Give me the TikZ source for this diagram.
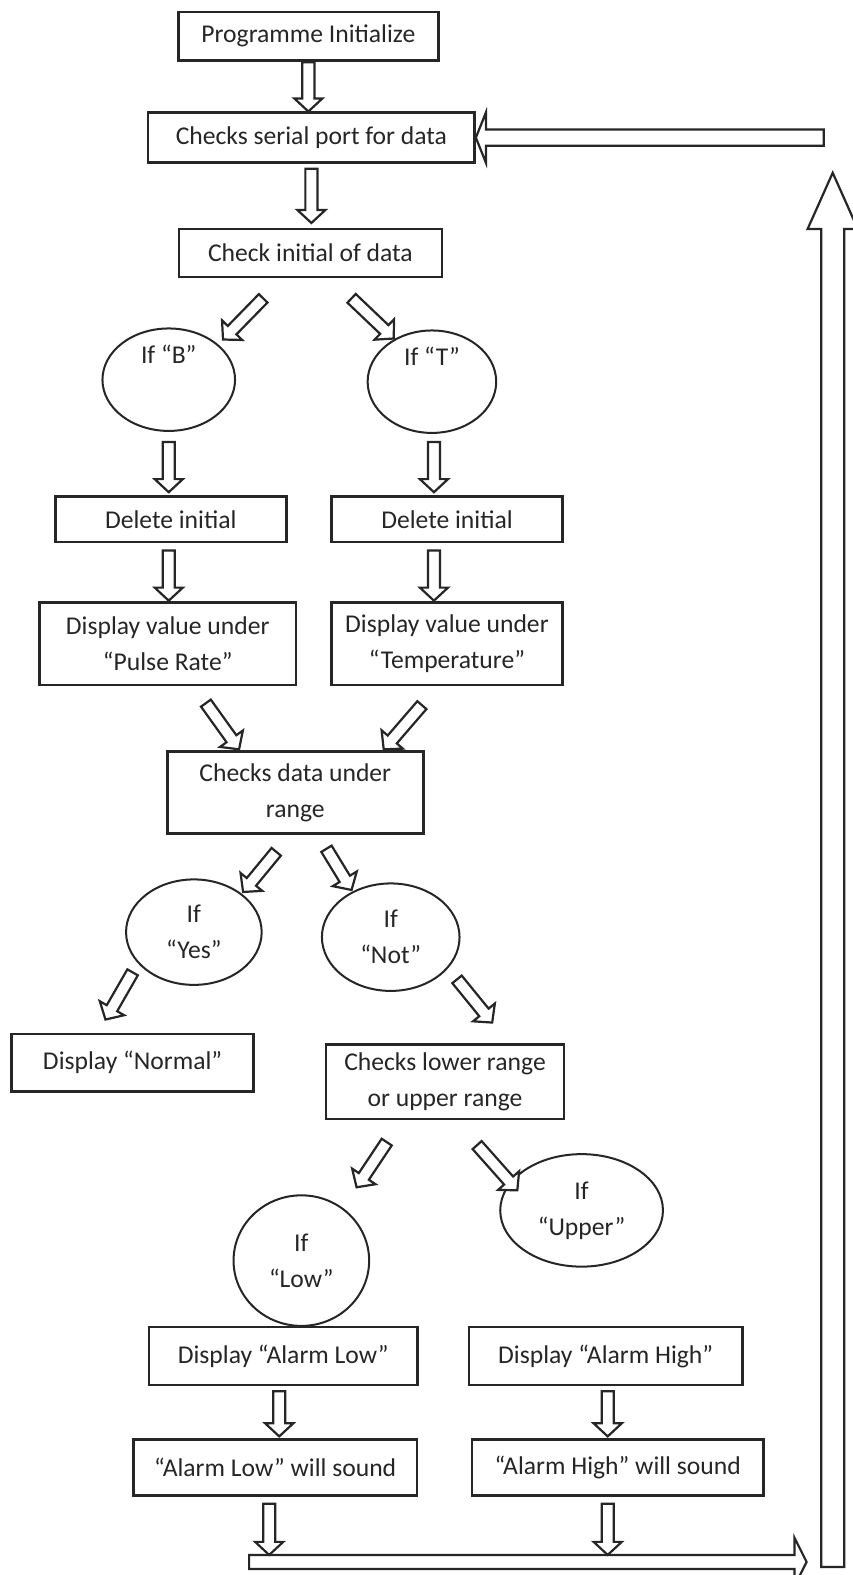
\documentclass[tikz,border=0pt]{standalone}
\usepackage{fontspec}
\setmainfont{Carlito}
\usetikzlibrary{calc,shapes.geometric}
\tikzset{
  box/.style={draw=black!85, line width=2.5pt, fill=white, align=center, inner sep=0pt,
    font=\fontsize{25.5}{36}\selectfont, text=black!85},
  oval/.style={ellipse, draw=black!85, line width=2pt, fill=white, align=center, inner sep=0pt,
    font=\fontsize{25.5}{36}\selectfont, text=black!85},
  hollow/.style={draw=black!85, line width=2.2pt, fill=white, line join=miter},
}
% #1 from, #2 to, #3 half shaft width, #4 half head width, #5 head length
\newcommand\hollowarrow[5]{%
  \coordinate (hA) at ($(#2)!#5!(#1)$);
  \draw[hollow] ($(#1)!#3!90:(#2)$) -- ($(hA)!#3!-90:(#1)$) -- ($(hA)!#4!-90:(#1)$) -- (#2)
    -- ($(hA)!#4!90:(#1)$) -- ($(hA)!#3!90:(#1)$) -- ($(#1)!#3!-90:(#2)$) -- cycle;}
\newcommand\smallarrow[2]{\hollowarrow{#1}{#2}{6pt}{14pt}{13pt}}
\begin{document}
\begin{tikzpicture}[x=1pt,y=-1pt]
\useasboundingbox (0,0) rectangle (849,1568);
% boxes
\node[box, minimum width=259pt, minimum height=48pt] (init) at (307,36) {Programme Initialize};
\node[box, minimum width=325pt, minimum height=50pt] (serial) at (310,137) {Checks serial port for data};
\node[box, minimum width=262pt, minimum height=48pt] (initial) at (309,252) {Check initial of data};
\node[oval, minimum width=132pt, minimum height=102pt] (ifB) at (168,378) {If “B”\\[4pt]\strut};
\node[oval, minimum width=128pt, minimum height=102pt] (ifT) at (430,380) {If “T”\\[4pt]\strut};
\node[box, minimum width=230pt, minimum height=45pt] (delB) at (170,517) {Delete initial};
\node[box, minimum width=230pt, minimum height=45pt] (delT) at (445,517) {Delete initial};
\node[box, minimum width=255pt, minimum height=82pt] (dispB) at (167,641) {Display value under\\“Pulse Rate”};
\node[box, minimum width=230pt, minimum height=82pt] (dispT) at (445,641) {Display value under\\“Temperature”};
\node[box, minimum width=255pt, minimum height=82pt] (range) at (294,789) {Checks data under\\range};
\node[oval, minimum width=135pt, minimum height=105pt] (yes) at (193,928) {If\\“Yes”};
\node[oval, minimum width=137pt, minimum height=107pt] (not) at (389,933) {If\\“Not”};
\node[box, minimum width=241pt, minimum height=57pt] (normal) at (132,1058) {Display “Normal”};
\node[box, minimum width=237pt, minimum height=74pt] (lowup) at (443,1077) {Checks lower range\\or upper range};
\node[oval, minimum width=135pt, minimum height=130pt] (low) at (300,1255) {If\\“Low”};
\node[oval, minimum width=162pt, minimum height=112pt] (upper) at (579,1205) {If\\“Upper”};
\node[box, minimum width=267pt, minimum height=58pt] (alow) at (282,1350) {Display “Alarm Low”};
\node[box, minimum width=272pt, minimum height=58pt] (ahigh) at (603,1350) {Display “Alarm High”};
\node[box, minimum width=282pt, minimum height=56pt] (slow) at (274,1461) {“Alarm Low” will sound};
\node[box, minimum width=290pt, minimum height=56pt] (shigh) at (615,1461) {“Alarm High” will sound};
% arrow end points
\coordinate (a1s) at (307,62);  \coordinate (a1e) at (307,111);
\coordinate (a2s) at (310,168); \coordinate (a2e) at (310,222);
\coordinate (a3s) at (262,297); \coordinate (a3e) at (222,338);
\coordinate (a4s) at (350,297); \coordinate (a4e) at (392,337);
\coordinate (a5s) at (168,440); \coordinate (a5e) at (168,490);
\coordinate (a6s) at (432,440); \coordinate (a6e) at (432,490);
\coordinate (a7s) at (168,548); \coordinate (a7e) at (168,598);
\coordinate (a8s) at (432,548); \coordinate (a8e) at (432,598);
\coordinate (a9s) at (205,700); \coordinate (a9e) at (238,746);
\coordinate (a10s) at (420,702); \coordinate (a10e) at (382,746);
\coordinate (a11s) at (275,848); \coordinate (a11e) at (242,888);
\coordinate (a12s) at (325,845); \coordinate (a12e) at (350,886);
\coordinate (a13s) at (132,968); \coordinate (a13e) at (105,1015);
\coordinate (a14s) at (455,975); \coordinate (a14e) at (490,1018);
\coordinate (a15s) at (385,1137); \coordinate (a15e) at (355,1182);
\coordinate (a16s) at (475,1140); \coordinate (a16e) at (515,1185);
\coordinate (a17s) at (278,1385); \coordinate (a17e) at (278,1430);
\coordinate (a18s) at (605,1385); \coordinate (a18e) at (605,1430);
\coordinate (a19s) at (268,1497); \coordinate (a19e) at (268,1548);
\coordinate (a20s) at (605,1497); \coordinate (a20e) at (605,1548);
\coordinate (loopS) at (829,1560); \coordinate (loopE) at (829,172);
\coordinate (topS) at (820,137);
\coordinate (botS) at (248,1555); \coordinate (botE) at (803,1555);
% arrows
\smallarrow{a1s}{a1e}
\smallarrow{a2s}{a2e}
\smallarrow{a3s}{a3e}
\smallarrow{a4s}{a4e}
\smallarrow{a5s}{a5e}
\smallarrow{a6s}{a6e}
\smallarrow{a7s}{a7e}
\smallarrow{a8s}{a8e}
\smallarrow{a9s}{a9e}
\smallarrow{a10s}{a10e}
\smallarrow{a11s}{a11e}
\smallarrow{a12s}{a12e}
\smallarrow{a13s}{a13e}
\smallarrow{a14s}{a14e}
\smallarrow{a15s}{a15e}
\smallarrow{a16s}{a16e}
\smallarrow{a17s}{a17e}
\smallarrow{a18s}{a18e}
\hollowarrow{botS}{botE}{7pt}{24pt}{12pt}
\smallarrow{a19s}{a19e}
\smallarrow{a20s}{a20e}
\hollowarrow{loopS}{loopE}{11.5pt}{25pt}{56pt}
\hollowarrow{topS}{serial.east}{8pt}{25pt}{10pt}
\end{tikzpicture}
\end{document}
